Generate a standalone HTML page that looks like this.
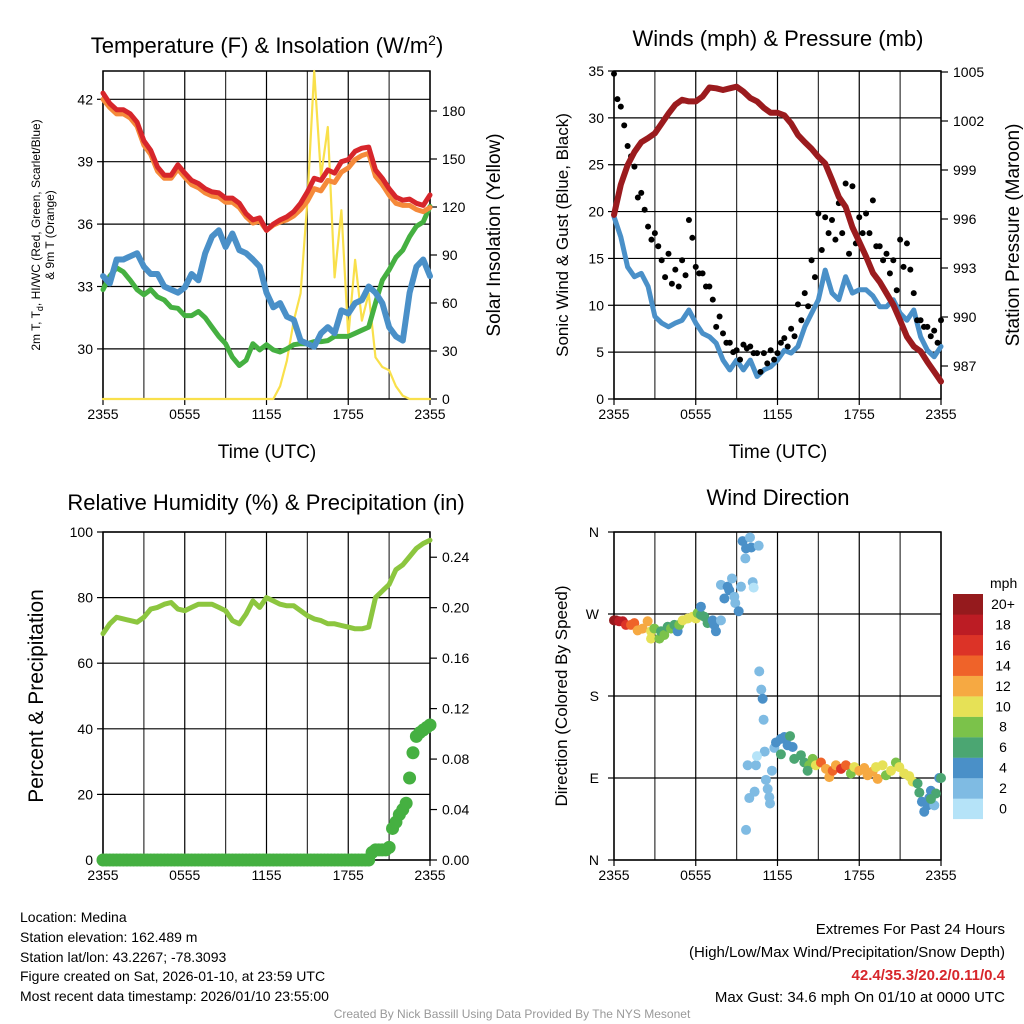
<!DOCTYPE html>
<html><head><meta charset="utf-8"><style>
html,body{margin:0;padding:0;background:#fff;}
svg{display:block;font-family:"Liberation Sans",Arial,sans-serif;}
</style></head><body>
<svg id="chart" width="1024" height="1024" viewBox="0 0 1024 1024" xmlns="http://www.w3.org/2000/svg">
<g id="g1"></g>
<g id="g2"></g>
<g id="g3"></g>
<g id="g4"></g>
<g id="txt">
<text x="267" y="53" text-anchor="middle" font-size="22">Temperature (F) &amp; Insolation (W/m<tspan dy="-8" font-size="14">2</tspan><tspan dy="8">)</tspan></text>
<text x="778" y="46" text-anchor="middle" font-size="22">Winds (mph) &amp; Pressure (mb)</text>
<text x="266" y="510" text-anchor="middle" font-size="22">Relative Humidity (%) &amp; Precipitation (in)</text>
<text x="778" y="505" text-anchor="middle" font-size="22">Wind Direction</text>
<text transform="translate(40,235) rotate(-90)" text-anchor="middle" font-size="12">2m T, T<tspan font-size="9" dy="3">d</tspan><tspan dy="-3">, HI/WC (Red, Green, Scarlet/Blue)</tspan></text>
<text transform="translate(54,235) rotate(-90)" text-anchor="middle" font-size="12">&amp; 9m T (Orange)</text>
<text transform="translate(500,235) rotate(-90)" text-anchor="middle" font-size="19">Solar Insolation (Yellow)</text>
<text transform="translate(568,235) rotate(-90)" text-anchor="middle" font-size="17">Sonic Wind &amp; Gust (Blue, Black)</text>
<text transform="translate(1019,235) rotate(-90)" text-anchor="middle" font-size="19">Station Pressure (Maroon)</text>
<text transform="translate(43,696) rotate(-90)" text-anchor="middle" font-size="21">Percent &amp; Precipitation</text>
<text transform="translate(567,696) rotate(-90)" text-anchor="middle" font-size="17">Direction (Colored By Speed)</text>
<text x="267" y="458" text-anchor="middle" font-size="19">Time (UTC)</text>
<text x="778" y="458" text-anchor="middle" font-size="19">Time (UTC)</text>
<g font-size="14">
<text x="20" y="922">Location: Medina</text>
<text x="20" y="942">Station elevation: 162.489 m</text>
<text x="20" y="962">Station lat/lon: 43.2267; -78.3093</text>
<text x="20" y="981">Figure created on Sat, 2026-01-10, at 23:59 UTC</text>
<text x="20" y="1001">Most recent data timestamp: 2026/01/10 23:55:00</text>
</g>
<g font-size="15" text-anchor="end">
<text x="1005" y="934">Extremes For Past 24 Hours</text>
<text x="1005" y="957">(High/Low/Max Wind/Precipitation/Snow Depth)</text>
<text x="1005" y="980" fill="#d7262b" font-weight="bold">42.4/35.3/20.2/0.11/0.4</text>
<text x="1005" y="1002">Max Gust: 34.6 mph On 01/10 at 0000 UTC</text>
</g>
<text x="512" y="1018" text-anchor="middle" font-size="12" fill="#999">Created By Nick Bassill Using Data Provided By The NYS Mesonet</text>
</g>
</svg>
<script>
var xTickLabels = ["2355","0555","1155","1755","2355"];
var tempRed = [42.3,41.8,41.5,41.5,41.3,40.9,40.0,39.55,38.75,38.35,38.35,38.85,38.45,38.1,37.95,37.7,37.55,37.5,37.25,37.25,37.0,36.5,36.2,36.3,35.7,36.0,36.2,36.35,36.6,37.0,37.55,38.2,38.1,38.6,38.45,39.0,39.1,39.5,39.65,39.7,38.6,38.2,37.7,37.3,37.15,37.2,37.0,36.9,37.4];
var tempOrange = [42.0,41.6,41.3,41.3,41.1,40.7,39.8,39.35,38.55,38.2,38.2,38.65,38.25,37.9,37.75,37.5,37.35,37.3,37.05,37.05,36.8,36.35,36.05,36.15,35.7,35.95,36.1,36.2,36.4,36.7,37.1,37.7,37.6,38.1,38.0,38.5,38.7,39.1,39.3,39.4,38.3,37.9,37.4,37.0,36.9,36.9,36.7,36.6,36.8];
var dewGreen = [32.85,33.5,33.9,33.7,33.3,32.85,32.6,32.85,32.5,32.35,32.0,31.95,31.6,31.6,31.8,31.5,31.05,30.6,30.25,29.6,29.2,29.45,30.25,29.95,30.2,29.95,29.85,30.0,30.2,30.25,30.25,30.35,30.35,30.4,30.6,30.6,30.6,30.75,30.9,31.05,32.2,33.3,33.8,34.4,34.75,35.4,35.9,36.1,36.85];
var chillBlue = [33.5,33.15,34.3,34.3,34.45,34.6,33.95,33.6,33.6,33.0,32.85,32.7,32.95,33.6,33.3,34.6,35.4,35.7,34.9,35.55,34.75,34.6,34.3,33.95,32.7,32.0,32.2,31.55,31.4,30.4,30.25,30.1,30.75,31.05,30.75,31.85,31.7,32.2,32.35,33.0,32.7,32.2,31.05,30.6,30.4,32.7,33.95,34.3,33.5];
var solarYellow = [0,0,0,0,0,0,0,0,0,0,0,0,0,0,0,0,0,0,0,0,0,0,0,0,0,0,8,24,49,66,124,205,139,170,76,118,39,87,49,66,26,20,18,8,2,0,0,0,0];
var tempTicks = [30,33,36,39,42];
var solarTicks = [0,30,60,90,120,150,180];

var windBlue = [19.45,17.3,14.1,13.05,13.4,12.0,8.8,8.1,7.7,8.1,8.4,9.5,8.1,7.0,6.65,5.95,4.15,3.1,4.15,3.1,4.15,2.4,3.1,3.45,4.15,5.2,4.9,5.6,7.7,9.15,10.6,13.75,11.3,10.6,13.05,11.3,11.65,11.65,11.0,9.85,9.85,10.6,9.15,8.4,9.5,6.65,5.2,4.5,5.6];
var pressure = [996.25,998.1,999.3,1000.1,1000.7,1000.95,1001.25,1001.85,1002.45,1003.0,1003.3,1003.2,1003.2,1003.5,1004.05,1004.0,1003.9,1004.0,1004.1,1003.8,1003.4,1003.2,1002.8,1002.5,1002.5,1002.35,1001.85,1001.15,1000.7,1000.3,999.8,999.4,998.4,997.35,996.75,995.5,994.6,993.7,992.7,992.15,991.45,990.75,989.8,988.8,988.2,987.9,987.25,986.65,986.05];
var gustBlack = [34.7,32.0,31.2,29.2,27.0,25.9,24.8,21.5,22.0,20.2,18.4,17.0,17.7,16.3,14.8,13.0,15.5,12.3,13.8,12.0,14.8,13.2,19.1,17.2,14.1,13.4,13.4,12.0,12.0,10.6,7.7,8.8,7.0,6.0,6.0,5.0,5.2,4.2,5.8,5.4,5.6,4.9,4.9,2.9,4.9,3.8,5.2,4.2,4.9,6.0,6.5,5.6,7.5,6.7,10.1,8.4,11.3,9.9,14.8,13.0,19.8,15.9,19.4,17.7,19.1,17.0,20.9,17.7,23.0,15.5,22.7,16.6,19.4,17.7,19.8,17.7,21.2,16.3,16.3,14.8,15.5,13.4,14.8,11.6,17.0,14.1,16.6,13.8,11.3,8.4,8.4,7.7,7.7,6.7,7.3,6.0,8.4];
var windTicks = [0,5,10,15,20,25,30,35];
var pressTicks = [987,990,993,996,999,1002,1005];

var rhValues = [69,72,74,73.5,73,72.5,74,76.5,77,78,78.5,76.5,76,77,78,78,78,77,76,73,72,75,79,77,80,79,78,77.5,77.5,76,74.5,73.5,73,72,72,71.5,71,70.5,70.5,71,80,82,84,88.5,90,92.5,95,96.5,97.5];
var precipValues = [0,0,0,0,0,0,0,0,0,0,0,0,0,0,0,0,0,0,0,0,0,0,0,0,0,0,0,0,0,0,0,0,0,0,0,0,0,0,0,0,0,0,0,0,0,0,0,0,0,0,0,0,0,0,0,0,0,0,0,0,0,0,0,0,0,0,0,0,0,0,0,0,0,0,0,0,0,0,0,0.006,0.008,0.008,0.008,0.008,0.01,0.025,0.03,0.036,0.04,0.045,0.065,0.085,0.098,0.101,0.103,0.105,0.107];
var rhTicks = [0,20,40,60,80,100];
var precipTicks = ["0.00","0.04","0.08","0.12","0.16","0.20","0.24"];

var dirHours = [0,0.15,0.39,0.64,0.88,1.25,1.49,1.74,2.10,2.47,2.72,2.72,2.96,3.33,3.45,3.69,3.94,4.18,4.43,4.67,4.79,5.04,5.41,5.77,6.02,6.14,6.38,6.38,6.63,6.87,7.24,7.48,7.36,7.85,
7.85,8.10,8.34,8.66,8.46,8.83,8.90,9.15,9.32,9.44,9.69,9.98,10.08,10.62,9.64,10.18,10.25,
10.66,10.81,10.91,10.98,9.69,9.93,10.32,9.81,10.42,11.15,11.28,11.40,11.45,11.59,11.06,10.49,11.77,11.89,12.25,12.50,12.92,12.25,12.74,13.11,
13.23,13.72,13.97,14.33,14.21,14.58,14.82,15.19,15.56,15.80,16.05,16.29,16.66,17.02,17.39,17.64,18.0,18.37,18.61,18.98,19.35,19.23,19.71,19.96,20.33,20.69,20.94,21.30,21.67,21.92,22.28,22.41,22.60,22.77,23.02,23.26,23.51,23.63,23.14,23.87,24.0,23.26];
var dirDegrees = [263,263,262,262,258,258,260,252,254,262,251,243,254,243,251,247,256,254,258,251,258,263,265,267,265,271,269,278,267,260,263,251,258,263,
302,287,300,309,296,289,282,273,300,350,342,354,343,345,331,305,299,
207,187,177,154,33,68,75,104,104,88,78,69,62,98,119,114,123,129,133,135,136,116,126,124,
111,115,107,104,98,111,104,107,100,91,98,104,100,104,95,102,98,101,93,97,89,102,104,93,98,107,102,95,92,86,84,74,64,53,60,76,60,73,68,90,90,67];
var dirSpeeds = [20,20,19,18,17,15,14,12,12,12,10,10,8,8,7,8,7,8,6,5,8,10,10,10,10,8,6,4,7,6,5,4,4,3,
3,4,4,2,4,3,3,4,2,4,4,2,4,2,2,2,0,
2,2,4,2,2,2,2,2,2,2,2,2,2,2,2,0,2,4,4,4,6,6,4,4,
6,6,6,8,6,8,10,14,12,12,14,12,16,15,8,10,12,12,12,12,12,10,10,8,10,8,10,10,10,10,6,6,4,4,4,4,2,6,4,4,6,6];
var dirTickLabels = ["N","E","S","W","N"];
var speedLegendLabels = ["0","2","4","6","8","10","12","14","16","18","20+"];
var speedColors = ["#b5e3f8","#7fbbe3","#4a90c8","#4ba672","#7bc24a","#e6e156","#f6a942","#ef6329","#dc3327","#bc1c24","#951a1d"];

var NS="http://www.w3.org/2000/svg";
function mk(tag, parent, attrs){var e=document.createElementNS(NS,tag);for(var k in attrs)e.setAttribute(k,attrs[k]);parent.appendChild(e);return e;}
function linear(d0,d1,r0,r1){return function(v){return r0+(v-d0)*(r1-r0)/(d1-d0);};}
function pathFrom(vals, step, xf, yf){var d="";for(var i=0;i<vals.length;i++){d+=(i?"L":"M")+xf(i*step).toFixed(1)+","+yf(vals[i]).toFixed(1);}return d;}

function frame(g, L, T, R, B, hLines, yf){
  for(var h=0;h<=24;h+=3){
    var x=linear(0,24,L,R)(h);
    var ln=mk("line",g,{x1:x,y1:T,x2:x,y2:B,stroke:(h%6===0?"#000":"#333"),"stroke-width":1.2});
    
    
  }
  for(var i=0;i<hLines.length;i++){
    var y=yf(hLines[i]);
    var hl=mk("line",g,{x1:L,y1:y,x2:R,y2:y,stroke:"#000","stroke-width":1.2});
    
    
  }
  var bx=mk("rect",g,{x:L,y:T,width:R-L,height:B-T,fill:"none",stroke:"#000","stroke-width":1.5});
  
  
  for(var k=0;k<xTickLabels.length;k++){
    var xx=linear(0,24,L,R)(k*6);
    var tk=mk("line",g,{x1:xx,y1:B,x2:xx,y2:B+6,stroke:"#000","stroke-width":1.2});
    
    
    var t=mk("text",g,{x:xx,y:B+20,"text-anchor":"middle","font-size":14});
    t.textContent=xTickLabels[k];
    
    
  }
}
function leftTicks(g,L,ticks,yf,labels){
  for(var i=0;i<ticks.length;i++){var y=yf(ticks[i]);
    var tk=mk("line",g,{x1:L-6,y1:y,x2:L,y2:y,stroke:"#000","stroke-width":1.2});
    
    
    var t=mk("text",g,{x:L-10,y:y+5,"text-anchor":"end","font-size":14});t.textContent=labels?labels[i]:ticks[i];
    
    }
}
function rightTicks(g,R,ticks,yf,labels){
  for(var i=0;i<ticks.length;i++){var y=yf(ticks[i]);
    var tk=mk("line",g,{x1:R,y1:y,x2:R+7,y2:y,stroke:"#000","stroke-width":1.2});
    
    
    var t=mk("text",g,{x:R+12,y:y+5,"font-size":14});t.textContent=labels?labels[i]:ticks[i];
    
    }
}
function line(g,vals,step,xf,yf,color,w,name){
  var p=mk("path",g,{d:pathFrom(vals,step,xf,yf),fill:"none",stroke:color,"stroke-width":w,"stroke-linejoin":"round","stroke-linecap":"round"});
  
  
  return p;
}

(function(){
  var g=document.getElementById("g1"),L=103,R=430,T=71,B=399;
  var x=linear(0,24,L,R), y=linear(42,30,99.3,348.9), ys=linear(0,180,399,111);
  frame(g,L,T,R,B,tempTicks,y);
  leftTicks(g,L,tempTicks,y);
  rightTicks(g,R,solarTicks,ys);
  line(g,solarYellow,0.5,x,ys,"#f9e04b",2.2,"solar-insolation-line");
  line(g,dewGreen,0.5,x,y,"#45b041",5,"dewpoint-line");
  line(g,chillBlue,0.5,x,y,"#4a90c8",6,"wind-chill-line");
  line(g,tempOrange,0.5,x,y,"#f58a3a",5,"temp-9m-line");
  line(g,tempRed,0.5,x,y,"#d7262b",5,"temp-2m-line");
})();

(function(){
  var g=document.getElementById("g2"),L=614,R=941,T=71,B=399;
  var x=linear(0,24,L,R), y=linear(0,35,399,71), yp=linear(987,1005,366,72);
  frame(g,L,T,R,B,windTicks,y);
  leftTicks(g,L,windTicks,y);
  rightTicks(g,R,pressTicks,yp);
  line(g,windBlue,0.5,x,y,"#4a90c8",5,"sonic-wind-line");
  for(var i=0;i<gustBlack.length;i++){
    var c=mk("circle",g,{cx:x(i*0.25),cy:y(gustBlack[i]),r:3,fill:"#000"});
    
    
  }
  line(g,pressure,0.5,x,yp,"#9b1b1e",6,"pressure-line");
})();

(function(){
  var g=document.getElementById("g3"),L=103,R=430,T=532,B=860;
  var x=linear(0,24,L,R), y=linear(0,100,860,532), yp=linear(0,0.26,860,532);
  frame(g,L,T,R,B,rhTicks,y);
  leftTicks(g,L,rhTicks,y);
  rightTicks(g,R,precipTicks.map(Number),yp,precipTicks);
  line(g,rhValues,0.5,x,y,"#8cc63f",5,"relative-humidity-line");
  for(var i=0;i<precipValues.length;i++){
    var c=mk("circle",g,{cx:x(i*0.25),cy:yp(precipValues[i]),r:6.5,fill:"#45b041"});
    
    
  }
})();

(function(){
  var g=document.getElementById("g4"),L=614,R=941,T=532,B=860;
  var x=linear(0,24,L,R), y=linear(0,360,860,532);
  frame(g,L,T,R,B,[0,90,180,270,360],y);
  var dv=[0,90,180,270,360];
  for(var i=0;i<dv.length;i++){
    var yy=y(dv[i]);
    var tk=mk("line",g,{x1:L-6,y1:yy,x2:L,y2:yy,stroke:"#000","stroke-width":1.2});
    
    
    var t=mk("text",g,{x:L-15,y:yy+5,"text-anchor":"end","font-size":14});t.textContent=dirTickLabels[i];
    
    
  }
  for(var j=0;j<dirHours.length;j++){
    var idx=Math.min(10,Math.floor(dirSpeeds[j]/2));
    var c=mk("circle",g,{cx:x(dirHours[j]),cy:y(dirDegrees[j]),r:5,fill:speedColors[idx]});
    
    
  }
  var lt=mk("text",g,{x:990,y:588,"font-size":14});lt.textContent="mph";
  
  
  for(var k=0;k<speedLegendLabels.length;k++){
    var top=594+(10-k)*20.45;
    var r=mk("rect",g,{x:953,y:top,width:30,height:20.6,fill:speedColors[k]});
    
    
    var t2=mk("text",g,{x:1003,y:top+15,"text-anchor":"middle","font-size":14});t2.textContent=speedLegendLabels[k];
    
    
  }
})();
</script>
</body></html>
